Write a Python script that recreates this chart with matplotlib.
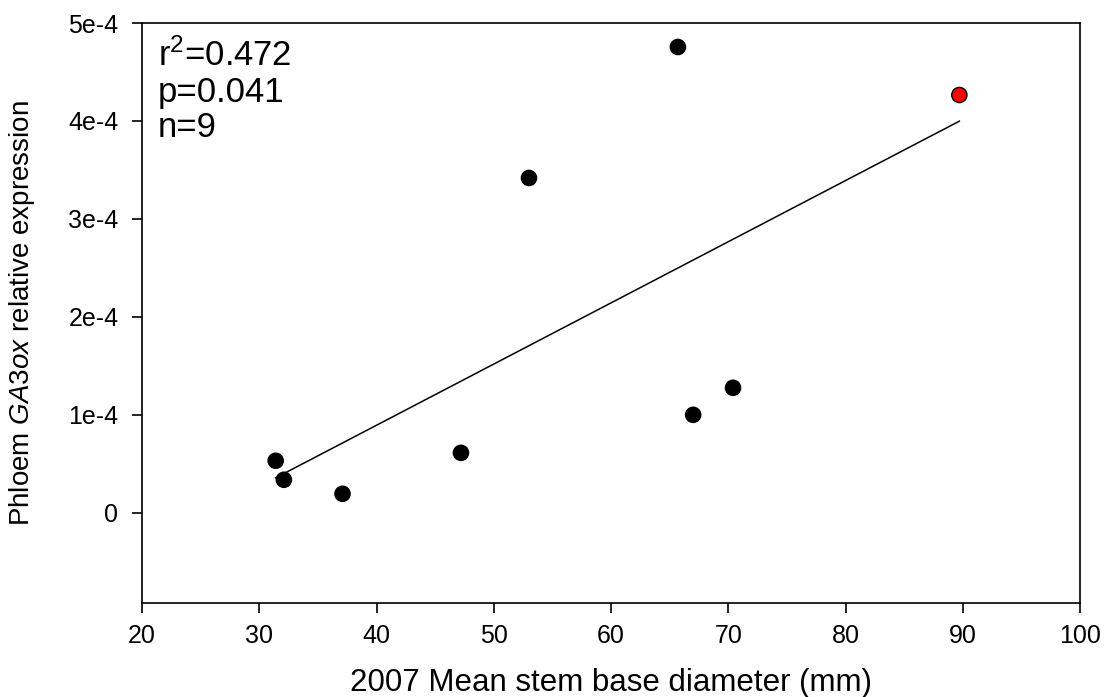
import numpy as np
import matplotlib
matplotlib.use("Agg")
import matplotlib.pyplot as plt

plt.rcParams['font.family'] = ['Liberation Sans', 'DejaVu Sans']
plt.rcParams['mathtext.fontset'] = 'custom'
plt.rcParams['mathtext.rm'] = 'Liberation Sans'
plt.rcParams['mathtext.it'] = 'Liberation Sans:italic'

# stem base diameter (mm) and phloem GA3ox relative expression
diameter = [31.4, 32.1, 37.1, 47.2, 53.0, 65.7, 67.0, 70.4, 89.7]
expression = [0.531e-4, 0.337e-4, 0.194e-4, 0.612e-4, 3.418e-4,
              4.755e-4, 1.00e-4, 1.276e-4, 4.265e-4]
point_colors = ['black'] * 8 + ['red']

x_ticks = [20, 30, 40, 50, 60, 70, 80, 90, 100]
y_ticks = [0, 1e-4, 2e-4, 3e-4, 4e-4, 5e-4]
y_ticklabels = ['0', '1e-4', '2e-4', '3e-4', '4e-4', '5e-4']
stats_lines = ["r$^2$=0.472", "p=0.041", "n=9"]

fig = plt.figure(figsize=(11.05, 6.97), dpi=100)
ax = fig.add_axes([0.1285, 0.135, 0.849, 0.832])

# regression line over the data range
slope, intercept = np.polyfit(diameter, expression, 1)
xs = np.array([min(diameter), max(diameter)])
ax.plot(xs, slope * xs + intercept, color='black', lw=1.1, zorder=2)

ax.scatter(diameter, expression, s=120, c=point_colors, edgecolors='black',
           linewidths=1.0, zorder=3)

ax.set_xlim(20, 100)
ax.set_ylim(-0.92e-4, 5e-4)
ax.set_xticks(x_ticks)
ax.set_yticks(y_ticks)
ax.set_yticklabels(y_ticklabels)

for s in ax.spines.values():
    s.set_linewidth(1.2)
ax.tick_params(direction='out', length=7, width=1.2, labelsize=18)
ax.tick_params(axis='y', pad=10)
ax.tick_params(axis='x', pad=8)

ax.set_xlabel('2007 Mean stem base diameter (mm)', fontsize=22.5)
ax.set_ylabel('Phloem $\\it{GA3ox}$ relative expression', fontsize=20)
ax.xaxis.set_label_coords(0.5, -0.112)
ax.yaxis.set_label_coords(-0.112, 0.5)

for txt, yb in zip(stats_lines, [0.926, 0.864, 0.803]):
    ax.text(0.017, yb, txt, transform=ax.transAxes, fontsize=25,
            va='baseline', ha='left')

fig.savefig('out.png', dpi=100)
